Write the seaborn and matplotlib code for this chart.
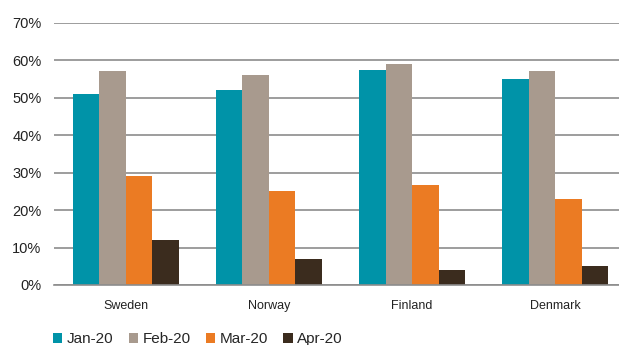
import pandas as pd
import matplotlib.pyplot as plt
import matplotlib.ticker as mticker
import seaborn as sns

# Datos
countries = ['Sweden', 'Norway', 'Finland', 'Denmark']
months = ['Jan-20', 'Feb-20', 'Mar-20', 'Apr-20']
jan_20 = [51, 52, 57.4, 55]
feb_20 = [57, 56, 59, 57]
mar_20 = [29, 25, 26.7, 23]
apr_20 = [12, 7, 4, 5]
colors = ['#0093A8', '#A89A8E', '#EB7B23', '#3B2C1E']

rows = []
for m, vals in zip(months, [jan_20, feb_20, mar_20, apr_20]):
    for c, v in zip(countries, vals):
        rows.append({'country': c, 'month': m, 'value': v})
df = pd.DataFrame(rows)

sns.set_style('white')
plt.rcParams['font.family'] = ['Liberation Sans', 'DejaVu Sans']

fig = plt.figure(figsize=(6.19, 3.45), dpi=100)
ax = fig.add_axes([54 / 619, 1 - 285 / 345, (627 - 54) / 619, (285 - 22.7) / 345])

sns.barplot(data=df, x='country', y='value', hue='month', order=countries,
            hue_order=months, palette=colors, width=0.74, gap=0,
            saturation=1, linewidth=0, ax=ax, legend=True)

ax.set_xlim(-0.5, 3.5)
ax.set_ylim(0, 70)
ax.yaxis.set_major_locator(mticker.MultipleLocator(10))
ax.yaxis.set_major_formatter(mticker.FuncFormatter(lambda v, p: f'{v:.0f}%'))
ax.grid(axis='y', color='#8C8C8C', linewidth=1.2)
ax.set_axisbelow(True)
ax.set_xlabel('')
ax.set_ylabel('')

for s in ['top', 'right', 'left']:
    ax.spines[s].set_visible(False)
ax.spines['bottom'].set_color('#8C8C8C')
ax.spines['bottom'].set_linewidth(1.2)

ax.tick_params(axis='y', length=0, labelsize=10.5, pad=9, colors='#222222')
ax.tick_params(axis='x', which='major', length=0, labelsize=9, pad=11, colors='#222222')
ax.set_xticks([-0.5, 0.5, 1.5, 2.5], minor=True)
ax.tick_params(axis='x', which='minor', length=4, width=1, color='#8C8C8C')

handles, labels = ax.get_legend_handles_labels()
ax.legend(handles, labels, loc='lower left', bbox_to_anchor=(44 / 619, -0.03),
          bbox_transform=fig.transFigure, ncol=4, frameon=False,
          fontsize=11, handlelength=0.6, handleheight=0.6,
          handletextpad=0.3, columnspacing=1.0, borderaxespad=0.2)

fig.savefig('out.png', dpi=100)
